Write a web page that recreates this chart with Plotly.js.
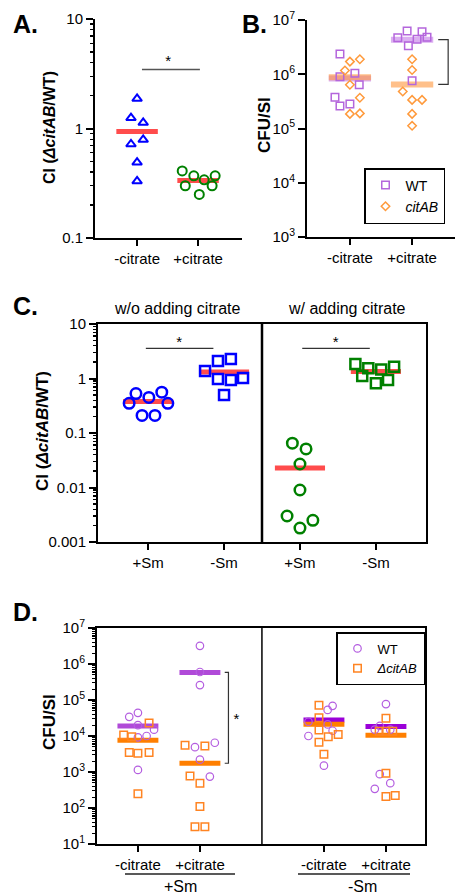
<!DOCTYPE html>
<html><head><meta charset="utf-8">
<script src="https://cdn.plot.ly/plotly-3.0.1.min.js"></script>
<style>html,body{margin:0;padding:0;background:#fff}#chart{width:455px;height:895px}</style>
</head><body><div id="chart"></div>
<script>
// ---------------- DATA ----------------
// Panel A : CI (ΔcitAB/WT)
const aCats = ['-citrate', '+citrate'];
const aMinusCitrate = [1.87, 1.25, 1.13, 0.79, 0.72, 0.49, 0.33];
const aPlusCitrate  = [0.41, 0.30, 0.37, 0.34, 0.37, 0.30, 0.25];

// Panel B : CFU/SI
const bCats = ['-citrate', '+citrate'];
const bWT_minus  = [2.37e6, 9.0e5, 1.04e6, 6.4e5, 3.77e5, 2.6e5, 2.84e5];
const bCit_minus = [1.17e6, 1.71e6, 1.89e6, 6.4e5, 3.7e5, 1.86e5, 1.9e5];
const bWT_plus   = [4.7e6, 6.3e6, 6.1e6, 4.8e6, 4.4e6, 3.37e6, 7.6e5];
const bCit_plus  = [1.89e6, 1.2e6, 4.8e5, 3.37e5, 3.37e5, 1.86e5, 1.12e5];

// Panel C : CI (ΔcitAB/WT)
const cCats = ['+Sm', '-Sm', '+Sm', '-Sm'];
const cHeaders = ['w/o adding citrate', 'w/ adding citrate'];
const cWo_plusSm  = [0.53, 0.45, 0.56, 0.35, 0.35, 0.21, 0.21];
const cWo_minusSm = [1.37, 2.1, 2.28, 0.98, 0.94, 1.02, 0.50];
const cW_plusSm   = [0.065, 0.051, 0.027, 0.009, 0.0030, 0.0018, 0.0025];
const cW_minusSm  = [1.85, 1.54, 1.47, 1.65, 1.11, 0.82, 0.94];

// Panel D : CFU/SI
const dCats = ['-citrate', '+citrate', '-citrate', '+citrate'];
const dGroups = ['+Sm', '-Sm'];
const dWT_pSm_mCit  = [3.4e4, 4.4e4, 2.0e4, 1.5e4, 9.2e3, 1.0e4, 1.14e3];
const dCit_pSm_mCit = [2.3e4, 1.07e4, 9.5e3, 3.5e3, 3.3e3, 3.5e3, 247];
const dWT_pSm_pCit  = [3.2e6, 6.0e5, 2.6e5, 6.5e3, 4.9e3, 2.2e3, 747];
const dCit_pSm_pCit = [5.5e3, 5.3e3, 780, 490, 110, 30, 30];
const dWT_mSm_mCit  = [6.9e4, 5.3e4, 2.5e4, 2.1e4, 1.4e4, 1.0e4, 1.5e3];
const dCit_mSm_mCit = [7.2e4, 3.2e4, 1.47e4, 9.5e3, 1.1e4, 6.7e3, 3.1e3];
const dWT_mSm_pCit  = [7.7e4, 1.9e4, 1.5e4, 1.5e4, 870, 490, 340];
const dCit_mSm_pCit = [3.1e4, 1.36e4, 1.36e4, 1.36e4, 925, 208, 222];

// ---------------- horizontal scatter offsets (layout only) ----------------
const jA1 = [0, -0.1, 0.1, 0.1, -0.1, 0, 0];
const jA2 = [-0.26, -0.21, -0.07, 0.1, 0.28, 0.23, 0.02];
const jB1w = [-0.16, -0.16, 0.08, 0.15, -0.24, -0.16, 0];
const jB1c = [-0.08, 0, 0.16, 0, 0.16, 0, 0.16];
const jB2w = [-0.23, -0.08, 0.16, 0.24, 0.08, -0.06, 0];
const jB2c = [0, 0, -0.15, 0, 0.16, 0, 0];
const jC1 = [-0.16, 0.01, 0.18, -0.25, 0.26, -0.08, 0.09];
const jC2 = [-0.25, -0.08, 0.09, -0.08, 0.09, 0.25, 0];
const jC3 = [-0.1, 0.08, 0, 0, -0.17, 0, 0.17];
const jC4 = [-0.27, -0.1, 0.07, 0.24, -0.18, 0, 0.16];
const jD1w = [-0.14, 0, 0, 0.26, 0, 0.14, 0];
const jD1c = [0.18, -0.23, -0.1, -0.14, 0, 0.18, 0];
const jD2w = [0, 0, 0, 0.24, -0.08, 0, 0.16];
const jD2c = [-0.24, 0.08, -0.16, 0, 0, -0.08, 0.08];
const jD3w = [0.14, 0.06, -0.25, 0.06, 0.14, -0.25, 0];
const jD3c = [-0.08, -0.08, -0.08, 0.07, 0.23, -0.08, 0];
const jD4w = [0, -0.1, -0.18, 0.07, -0.1, 0.07, -0.18];
const jD4c = [0, -0.11, 0, 0.11, 0, 0, 0.15];

// ---------------- helpers ----------------
const W = 455, H = 895;
const px = x => x / W, py = y => 1 - y / H;
const FONT = 'Arial, "Liberation Sans", sans-serif';
const mean = a => a.reduce((s, v) => s + v, 0) / a.length;
const axId = n => (n === 1 ? '' : String(n));

function pts(n, center, jit, vals, marker, extra) {
  return Object.assign({
    type: 'scatter', mode: 'markers',
    x: vals.map((v, i) => center + jit[i]), y: vals,
    xaxis: 'x' + axId(n), yaxis: 'y' + axId(n),
    marker: marker, showlegend: false, hoverinfo: 'skip', cliponaxis: false
  }, extra || {});
}
function meanLine(n, center, vals, color, width, hw) {
  const m = mean(vals);
  return {type: 'scatter', mode: 'lines', x: [center - hw, center + hw], y: [m, m],
    xaxis: 'x' + axId(n), yaxis: 'y' + axId(n), line: {color: color, width: width},
    showlegend: false, hoverinfo: 'skip', cliponaxis: false};
}
function line(n, xs, ys, color, width) {
  return {type: 'scatter', mode: 'lines', x: xs, y: ys, xaxis: 'x' + axId(n), yaxis: 'y' + axId(n),
    line: {color: color, width: width}, showlegend: false, hoverinfo: 'skip', cliponaxis: false};
}
function star(n, x, y) {
  return {type: 'scatter', mode: 'text', x: [x], y: [y], text: ['*'], textposition: 'middle center',
    textfont: {family: FONT, size: 15, color: '#000'}, xaxis: 'x' + axId(n), yaxis: 'y' + axId(n),
    showlegend: false, hoverinfo: 'skip', cliponaxis: false};
}
function minorVals(lo, hi) {
  const out = [];
  for (let e = lo; e < hi; e++) for (let k = 2; k <= 9; k++) out.push(k * Math.pow(10, e));
  return out;
}
function powLabels(lo, hi) {
  const v = [], t = [];
  for (let e = lo; e <= hi; e++) { v.push(Math.pow(10, e)); t.push('10<sup>' + e + '</sup>'); }
  return {v, t};
}

// colours
const BLUE = '#0000ff', GREEN = '#008000', RED = 'rgba(255,45,45,0.85)';
const PUR_B = '#b466dc', ORA_B = '#ff9a3c';
const PUR_D = '#b45ee0', ORA_D = '#ff8422';

const traces = [];
// ---- Panel A ----
traces.push(meanLine(1, 0, aMinusCitrate, RED, 5, 0.34));
traces.push(meanLine(1, 1, aPlusCitrate, RED, 5, 0.34));
traces.push(pts(1, 0, jA1, aMinusCitrate, {symbol: 'triangle-up-open', size: 8.5, color: BLUE, line: {color: BLUE, width: 2}}));
traces.push(pts(1, 1, jA2, aPlusCitrate, {symbol: 'circle-open', size: 9, color: GREEN, line: {color: GREEN, width: 2}}));
traces.push(line(1, [0.08, 1.03], [3.45, 3.45], '#555', 1.5));
traces.push(star(1, 0.51, 4.0));

// ---- Panel B ----
traces.push(meanLine(2, 0, bWT_minus, 'rgba(190,110,230,0.55)', 6, 0.34));
traces.push(meanLine(2, 0, bCit_minus, 'rgba(255,150,60,0.6)', 6, 0.34));
traces.push(meanLine(2, 1, bWT_plus, 'rgba(190,110,230,0.55)', 6, 0.34));
traces.push(meanLine(2, 1, bCit_plus, 'rgba(255,150,60,0.6)', 6, 0.34));
const mkBW = {symbol: 'square-open', size: 7.5, color: PUR_B, line: {color: PUR_B, width: 1.5}};
const mkBC = {symbol: 'diamond-open', size: 6.5, color: ORA_B, line: {color: ORA_B, width: 1.5}};
traces.push(pts(2, 0, jB1w, bWT_minus, mkBW, {showlegend: true, name: 'WT', legend: 'legend', legendrank: 1}));
traces.push(pts(2, 0, jB1c, bCit_minus, mkBC, {showlegend: true, name: '<i>citAB</i>', legend: 'legend', legendrank: 2}));
traces.push(pts(2, 1, jB2w, bWT_plus, mkBW));
traces.push(pts(2, 1, jB2c, bCit_plus, mkBC));
traces.push(line(2, [1.42, 1.58, 1.58, 1.42], [mean(bWT_plus), mean(bWT_plus), mean(bCit_plus), mean(bCit_plus)], '#333', 1.2));
traces.push(star(2, 1.74, 1.9e6));

// ---- Panel C ----
traces.push(meanLine(3, 0, cWo_plusSm, RED, 5, 0.33));
traces.push(meanLine(3, 1, cWo_minusSm, RED, 5, 0.33));
traces.push(meanLine(3, 2, cW_plusSm, RED, 5, 0.33));
traces.push(meanLine(3, 3, cW_minusSm, RED, 5, 0.33));
traces.push(pts(3, 0, jC1, cWo_plusSm, {symbol: 'circle-open', size: 10.5, color: BLUE, line: {color: BLUE, width: 2.5}}));
traces.push(pts(3, 1, jC2, cWo_minusSm, {symbol: 'square-open', size: 10, color: BLUE, line: {color: BLUE, width: 2.5}}));
traces.push(pts(3, 2, jC3, cW_plusSm, {symbol: 'circle-open', size: 10.5, color: GREEN, line: {color: GREEN, width: 2.5}}));
traces.push(pts(3, 3, jC4, cW_minusSm, {symbol: 'square-open', size: 10, color: GREEN, line: {color: GREEN, width: 2.5}}));
traces.push(line(3, [-0.03, 0.86], [3.58, 3.58], '#000', 1));
traces.push(line(3, [2.03, 2.92], [3.58, 3.58], '#000', 1));
traces.push(star(3, 0.41, 4.5));
traces.push(star(3, 2.47, 4.5));

// ---- Panel D ----
const dPos = [0, 1, 3, 4];
const dWT = [dWT_pSm_mCit, dWT_pSm_pCit, dWT_mSm_mCit, dWT_mSm_pCit];
const dCit = [dCit_pSm_mCit, dCit_pSm_pCit, dCit_mSm_mCit, dCit_mSm_pCit];
const jDW = [jD1w, jD2w, jD3w, jD4w], jDC = [jD1c, jD2c, jD3c, jD4c];
const purLines = ['#b04ad8', '#b04ad8', '#9a00d8', '#9a00d8'];
for (let i = 0; i < 4; i++) {
  traces.push(meanLine(4, dPos[i], dWT[i], purLines[i], 5, 0.33));
  traces.push(meanLine(4, dPos[i], dCit[i], '#ff7f00', 5, 0.33));
}
const mkDW = {symbol: 'circle-open', size: 7.5, color: PUR_D, line: {color: PUR_D, width: 1.2}};
const mkDC = {symbol: 'square-open', size: 7.5, color: ORA_D, line: {color: ORA_D, width: 1.5}};
for (let i = 0; i < 4; i++) {
  traces.push(pts(4, dPos[i], jDW[i], dWT[i], mkDW, i === 0 ? {showlegend: true, name: 'WT', legend: 'legend2', legendrank: 1} : {}));
  traces.push(pts(4, dPos[i], jDC[i], dCit[i], mkDC, i === 0 ? {showlegend: true, name: '<i>\u0394citAB</i>', legend: 'legend2', legendrank: 2} : {}));
}
traces.push(line(4, [1.40, 1.46, 1.46, 1.40], [mean(dWT_pSm_pCit), mean(dWT_pSm_pCit), mean(dCit_pSm_pCit), mean(dCit_pSm_pCit)], '#333', 1.2));
traces.push(star(4, 1.59, 2.8e4));

// ---------------- axes ----------------
const base = {showline: true, linecolor: '#000', linewidth: 2, ticks: 'outside', tickcolor: '#000',
  tickwidth: 2, ticklen: 6, showgrid: false, zeroline: false, fixedrange: true,
  tickfont: {family: FONT, size: 15, color: '#000'}};
const minor = (lo, hi) => ({ticks: 'outside', ticklen: 3.5, tickwidth: 1.2, tickcolor: '#000', tickmode: 'array', tickvals: minorVals(lo, hi), showgrid: false});
const pB = powLabels(3, 7), pD = powLabels(1, 7);

const layout = {
  width: W, height: H, margin: {l: 0, r: 0, t: 0, b: 0},
  paper_bgcolor: '#fff', plot_bgcolor: 'rgba(0,0,0,0)',
  font: {family: FONT, color: '#000', size: 15},
  xaxis: Object.assign({}, base, {domain: [px(95), px(242)], range: [-0.69, 1.72], anchor: 'y',
    tickmode: 'array', tickvals: [0, 1], ticktext: aCats}),
  yaxis: Object.assign({}, base, {domain: [py(238), py(19)], type: 'log', range: [-1, 1], anchor: 'x',
    tickmode: 'array', tickvals: [0.1, 1, 10], ticktext: ['0.1', '1', '10'], ticklen: 7, minor: minor(-1, 1)}),
  xaxis2: Object.assign({}, base, {domain: [px(307), 1], range: [-0.69, 1.69], anchor: 'y2',
    tickmode: 'array', tickvals: [0, 1], ticktext: bCats}),
  yaxis2: Object.assign({}, base, {domain: [py(237), py(20)], type: 'log', range: [3, 7], anchor: 'x2',
    tickmode: 'array', tickvals: pB.v, ticktext: pB.t, ticklen: 7}),
  xaxis3: Object.assign({}, base, {domain: [px(98), px(426)], range: [-0.66, 3.66], anchor: 'y3', mirror: true,
    tickmode: 'array', tickvals: [0, 1, 2, 3], ticktext: cCats}),
  yaxis3: Object.assign({}, base, {domain: [py(542), py(324)], type: 'log', range: [-3, 1], anchor: 'x3', mirror: true,
    tickmode: 'array', tickvals: [0.001, 0.01, 0.1, 1, 10], ticktext: ['0.001', '0.01', '0.1', '1', '10'], ticklen: 7, minor: minor(-3, 1)}),
  xaxis4: Object.assign({}, base, {domain: [px(97), px(425)], range: [-0.66, 4.63], anchor: 'y4', mirror: true,
    tickmode: 'array', tickvals: dPos, ticktext: dCats}),
  yaxis4: Object.assign({}, base, {domain: [py(844), py(628)], type: 'log', range: [1, 7], anchor: 'x4', mirror: true,
    tickmode: 'array', tickvals: pD.v, ticktext: pD.t, ticklen: 7, minor: minor(1, 7)}),
  legend: {x: px(364), y: py(168), xanchor: 'left', yanchor: 'top', bgcolor: '#fff', bordercolor: '#000', borderwidth: 1.5,
    font: {family: FONT, size: 14, color: '#000'}, tracegroupgap: 0, traceorder: 'normal', itemwidth: 30},
  legend2: {x: px(336), y: py(632), xanchor: 'left', yanchor: 'top', bgcolor: '#fff', bordercolor: '#000', borderwidth: 1.5,
    font: {family: FONT, size: 13, color: '#000'}, tracegroupgap: 0, traceorder: 'normal', itemwidth: 30},
  shapes: [
    {type: 'line', xref: 'x3', yref: 'paper', x0: 1.5, x1: 1.5, y0: py(542), y1: py(322), line: {color: '#000', width: 2.5}},
    {type: 'line', xref: 'x4', yref: 'paper', x0: 2, x1: 2, y0: py(844), y1: py(628), line: {color: '#000', width: 1.5}},
    {type: 'line', xref: 'paper', yref: 'paper', x0: px(125), x1: px(235), y0: py(874), y1: py(874), line: {color: '#222', width: 1.5}},
    {type: 'line', xref: 'paper', yref: 'paper', x0: px(298), x1: px(410), y0: py(874), y1: py(874), line: {color: '#222', width: 1.5}}
  ],
  annotations: [
    {text: '<b>A.</b>', x: px(11), y: py(24), xref: 'paper', yref: 'paper', xanchor: 'left', yanchor: 'middle', showarrow: false, font: {size: 25}},
    {text: '<b>B.</b>', x: px(240), y: py(24), xref: 'paper', yref: 'paper', xanchor: 'left', yanchor: 'middle', showarrow: false, font: {size: 25}},
    {text: '<b>C.</b>', x: px(11), y: py(306), xref: 'paper', yref: 'paper', xanchor: 'left', yanchor: 'middle', showarrow: false, font: {size: 25}},
    {text: '<b>D.</b>', x: px(11), y: py(612), xref: 'paper', yref: 'paper', xanchor: 'left', yanchor: 'middle', showarrow: false, font: {size: 25}},
    {text: '<b>CI (<i>\u0394citAB</i>/WT)</b>', textangle: -90, x: px(50), y: py(128), xref: 'paper', yref: 'paper', xanchor: 'center', yanchor: 'middle', showarrow: false, font: {size: 16}},
    {text: '<b>CFU/SI</b>', textangle: -90, x: px(264), y: py(125), xref: 'paper', yref: 'paper', xanchor: 'center', yanchor: 'middle', showarrow: false, font: {size: 17}},
    {text: '<b>CI (<i>\u0394citAB</i>/WT)</b>', textangle: -90, x: px(42), y: py(431), xref: 'paper', yref: 'paper', xanchor: 'center', yanchor: 'middle', showarrow: false, font: {size: 17}},
    {text: '<b>CFU/SI</b>', textangle: -90, x: px(49), y: py(722), xref: 'paper', yref: 'paper', xanchor: 'center', yanchor: 'middle', showarrow: false, font: {size: 17}},
    {text: cHeaders[0], x: px(177), y: py(308), xref: 'paper', yref: 'paper', xanchor: 'center', yanchor: 'middle', showarrow: false, font: {size: 16}},
    {text: cHeaders[1], x: px(347), y: py(308), xref: 'paper', yref: 'paper', xanchor: 'center', yanchor: 'middle', showarrow: false, font: {size: 16}},
    {text: dGroups[0], x: px(180), y: py(886), xref: 'paper', yref: 'paper', xanchor: 'center', yanchor: 'middle', showarrow: false, font: {size: 16}},
    {text: dGroups[1], x: px(362), y: py(886), xref: 'paper', yref: 'paper', xanchor: 'center', yanchor: 'middle', showarrow: false, font: {size: 16}}
  ]
};

Plotly.newPlot('chart', traces, layout, {displayModeBar: false, staticPlot: true});
</script>
</body></html>
